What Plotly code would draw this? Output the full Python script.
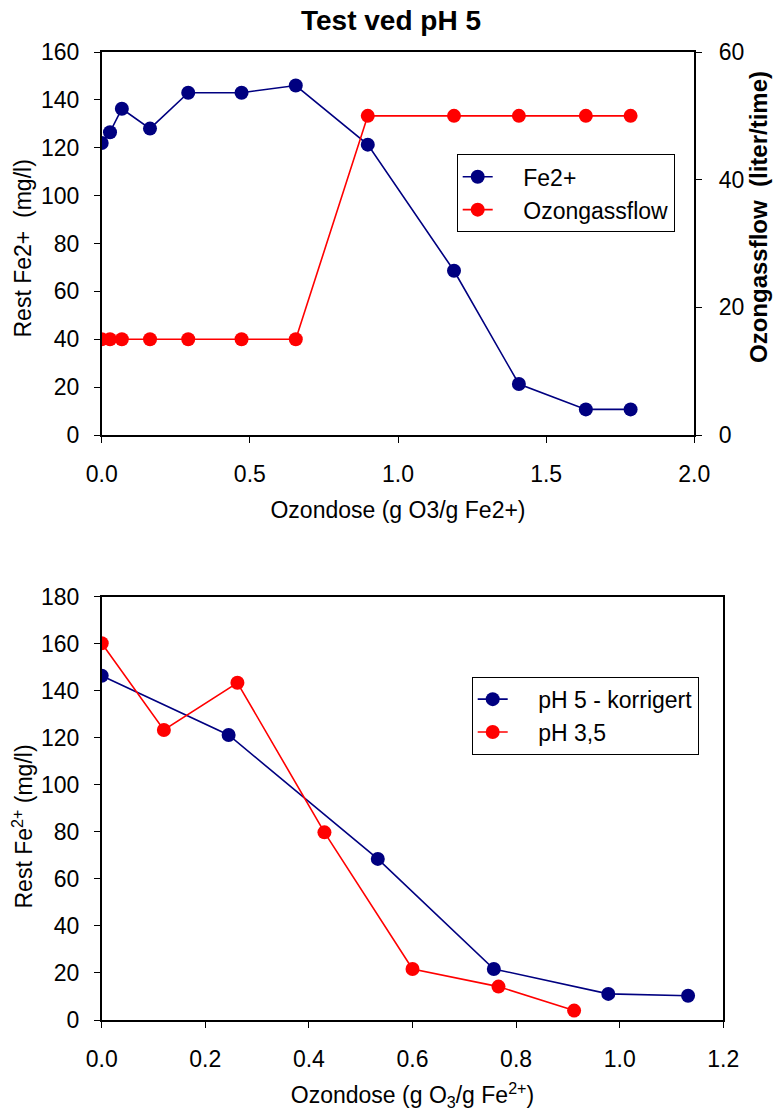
import plotly.graph_objects as go

# ---- Top chart data (Test ved pH 5) ----
dose_top = [0.0, 0.028, 0.068, 0.163, 0.292, 0.472, 0.655, 0.898, 1.189, 1.408, 1.634, 1.785]
fe2_top = [122.0, 126.5, 136.3, 128.0, 143.0, 143.0, 146.0, 121.3, 68.6, 21.3, 10.7, 10.7]
ozonflow = [15, 15, 15, 15, 15, 15, 15, 50, 50, 50, 50, 50]

# ---- Bottom chart data ----
dose_ph5 = [0.0, 0.245, 0.533, 0.757, 0.978, 1.132]
fe2_ph5 = [146.4, 121.2, 68.5, 21.7, 11.1, 10.3]
dose_ph35 = [0.0, 0.120, 0.262, 0.430, 0.600, 0.766, 0.912]
fe2_ph35 = [160.2, 123.3, 143.4, 79.8, 21.7, 14.2, 4.0]

NAVY = "#000080"
RED = "#FF0000"
FONT = "Liberation Sans, Arial, sans-serif"
FS = 23
W, H = 775, 1111
PAD = "\u00a0" * 4

def px_x(p):
    return p / W

def px_y(p):
    return 1 - p / H

fig = go.Figure()

fig.add_trace(go.Scatter(x=dose_top, y=fe2_top, name=PAD + "Fe2+", mode="lines+markers",
                         line=dict(color=NAVY, width=1.6), marker=dict(color=NAVY, size=14),
                         xaxis="x", yaxis="y", legend="legend"))
fig.add_trace(go.Scatter(x=dose_top, y=ozonflow, name=PAD + "Ozongassflow", mode="lines+markers",
                         line=dict(color=RED, width=1.6), marker=dict(color=RED, size=14),
                         xaxis="x", yaxis="y2", legend="legend"))
fig.add_trace(go.Scatter(x=dose_ph5, y=fe2_ph5, name=PAD + "pH 5 - korrigert", mode="lines+markers",
                         line=dict(color=NAVY, width=1.6), marker=dict(color=NAVY, size=14),
                         xaxis="x2", yaxis="y3", legend="legend2"))
fig.add_trace(go.Scatter(x=dose_ph35, y=fe2_ph35, name=PAD + "pH 3,5", mode="lines+markers",
                         line=dict(color=RED, width=1.6), marker=dict(color=RED, size=14),
                         xaxis="x2", yaxis="y3", legend="legend2"))

axis_common = dict(showgrid=False, zeroline=False, showline=True, linecolor="black", linewidth=1.5,
                   ticks="outside", ticklen=6, tickwidth=1.2, tickcolor="black", automargin=False,
                   tickfont=dict(family=FONT, size=FS, color="black"))

top_dom_y = [px_y(435), px_y(52)]
bot_dom_y = [px_y(1020), px_y(596.7)]

def ann(text, x, y, size=FS, angle=0):
    return dict(text=text, x=px_x(x), y=px_y(y), xref="paper", yref="paper",
                xanchor="center", yanchor="middle", showarrow=False, textangle=angle,
                borderpad=0, font=dict(family=FONT, size=size, color="black"))

fig.update_layout(
    width=W, height=H,
    margin=dict(l=0, r=0, t=0, b=0),
    paper_bgcolor="white", plot_bgcolor="white",
    font=dict(family=FONT, size=FS, color="black"),
    xaxis=dict(axis_common, domain=[px_x(101.7), px_x(694.3)], range=[0, 2.0], dtick=0.5,
               tickformat=".1f", mirror=True, anchor="y", ticklabelstandoff=12,
               title=dict(text="Ozondose (g O3/g Fe2+)", font=dict(family=FONT, size=FS), standoff=16)),
    yaxis=dict(axis_common, domain=top_dom_y, range=[0, 160], dtick=20, anchor="x",
               ticklabelstandoff=10),
    yaxis2=dict(axis_common, domain=top_dom_y, range=[0, 60], dtick=20, overlaying="y", side="right",
                anchor="x", ticklabelstandoff=12),
    xaxis2=dict(axis_common, domain=[px_x(101.7), px_x(723.3)], range=[0, 1.2], dtick=0.2,
                tickformat=".1f", mirror=True, anchor="y3", ticklabelstandoff=12,
                title=dict(text="Ozondose (g O<sub>3</sub>/g Fe<sup>2+</sup>)",
                           font=dict(family=FONT, size=FS), standoff=18)),
    yaxis3=dict(axis_common, domain=bot_dom_y, range=[0, 180], dtick=20, anchor="x2", mirror=True,
                ticklabelstandoff=10),
    legend=dict(x=px_x(456.7), y=px_y(154.3), xanchor="left", yanchor="top",
                bordercolor="black", borderwidth=1, bgcolor="white",
                font=dict(family=FONT, size=FS, color="black")),
    legend2=dict(x=px_x(471.7), y=px_y(676.7), xanchor="left", yanchor="top",
                 bordercolor="black", borderwidth=1, bgcolor="white",
                 font=dict(family=FONT, size=FS, color="black")),
    annotations=[
        ann("<b>Test ved pH 5</b>", 391, 21, size=28),
        ann("Rest Fe2+  (mg/l)", 22.5, 249, angle=-90),
        ann("<b>Ozongassflow  (liter/time)</b>", 759, 217, size=24, angle=-90),
        ann("Rest Fe<sup>2+</sup> (mg/l)", 22.5, 827, angle=-90),
    ],
)

fig.write_html("out.html", config={"displayModeBar": False},
               post_script="document.body.style.margin='0';document.body.style.padding='0';")
